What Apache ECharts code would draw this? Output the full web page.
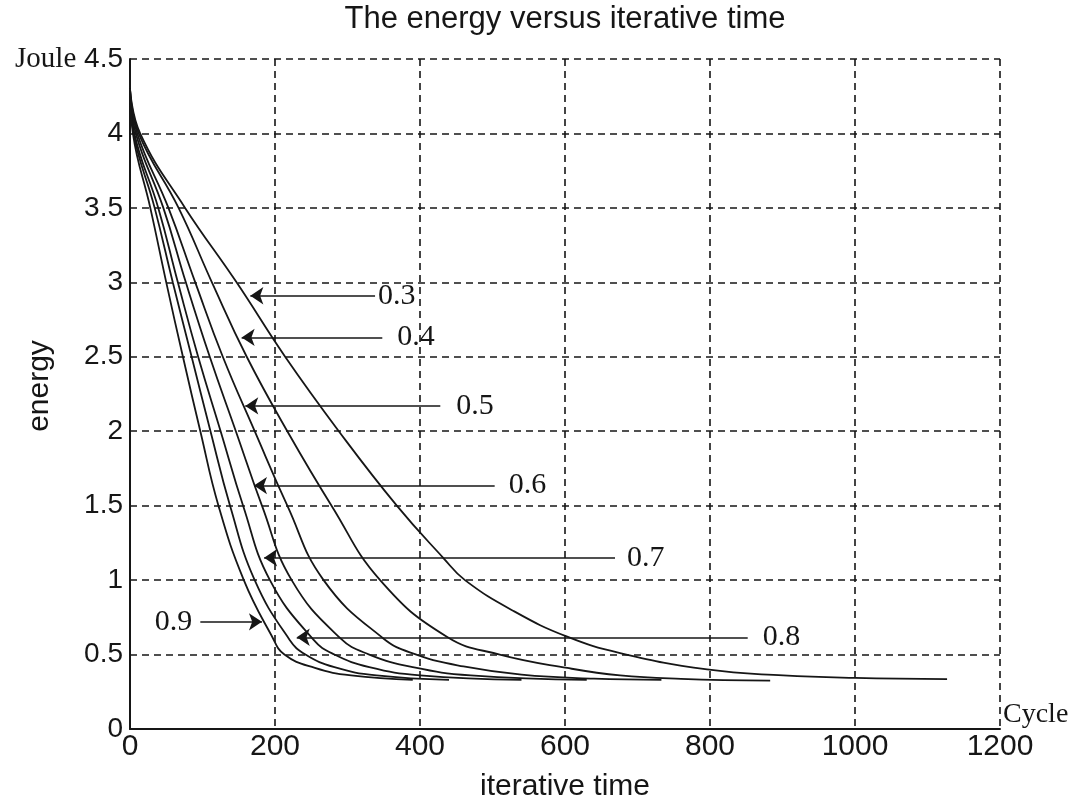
<!DOCTYPE html>
<html>
<head>
<meta charset="utf-8">
<script src="https://cdn.jsdelivr.net/npm/echarts@6/dist/echarts.min.js"></script>
<style>
html,body{margin:0;padding:0;background:#fff;}
#chart{width:1079px;height:806px;}
</style>
</head>
<body>
<div id="chart"></div>
<script>
// ---- data ----
const xTicks = [0, 200, 400, 600, 800, 1000, 1200];
const yTicks = [0, 0.5, 1, 1.5, 2, 2.5, 3, 3.5, 4, 4.5];
const seriesNames = ['0.3', '0.4', '0.5', '0.6', '0.7', '0.8', '0.9'];
const e03 = [[0,4.3],[14,4.0],[76,3.5],[147,3.0],[214,2.5],[288,2.0],[368,1.5],[432,1.15],[462,1.0],[530,0.79],[603,0.62],[676,0.51],[796,0.4],[901,0.36],[1000,0.343],[1127,0.335]];
const e04 = [[0,4.3],[12,4.0],[67,3.5],[113,3.0],[161,2.5],[217,2.0],[278,1.5],[345,1.0],[437,0.62],[510,0.5],[603,0.41],[676,0.36],[760,0.337],[883,0.325]];
const e05 = [[0,4.3],[10,4.0],[53,3.5],[90,3.0],[128,2.5],[172,2.0],[217,1.5],[267,1.0],[349,0.61],[395,0.5],[460,0.42],[540,0.365],[640,0.338],[733,0.33]];
const e06 = [[0,4.3],[8,4.0],[46,3.5],[77,3.0],[110,2.5],[146,2.0],[182,1.5],[223,1.0],[290,0.61],[330,0.5],[390,0.415],[470,0.36],[630,0.33]];
const e07 = [[0,4.3],[6,4.0],[39,3.5],[66,3.0],[94,2.5],[125,2.0],[156,1.5],[193,1.0],[253,0.6],[282,0.5],[330,0.415],[400,0.36],[540,0.33]];
const e08 = [[0,4.3],[5,4.0],[34,3.5],[59,3.0],[85,2.5],[111,2.0],[138,1.5],[172,1.0],[220,0.6],[242,0.5],[282,0.415],[340,0.36],[440,0.33]];
const e09 = [[0,4.3],[4,4.0],[28,3.5],[50,3.0],[73,2.5],[97,2.0],[122,1.5],[157,1.0],[195,0.63],[213,0.5],[255,0.41],[305,0.36],[390,0.33]];
// arrow annotations: [label-end x, tip x, y] in data units
const arrow03 = [338, 166, 2.91];
const arrow04 = [348, 154, 2.63];
const arrow05 = [428, 159, 2.17];
const arrow06 = [503, 171, 1.635];
const arrow07 = [669, 185, 1.15];
const arrow08 = [852, 230, 0.616];
const arrow09 = [97, 182, 0.72];

const curves = [e03, e04, e05, e06, e07, e08, e09];
const arrows = [arrow03, arrow04, arrow05, arrow06, arrow07, arrow08, arrow09];
const labelGap = [3, 15, 16, 14, 12, 15, 8];

const chart = echarts.init(document.getElementById('chart'), null, {renderer: 'canvas'});
const INK = '#161616';
const dash = [7, 5];

const series = curves.map((d, i) => {
  const a = arrows[i];
  return {
    type: 'line',
    name: seriesNames[i],
    data: d,
    showSymbol: false,
    symbol: 'none',
    smooth: 0.45,
    lineStyle: {color: INK, width: 1.8},
    z: 3,
    markLine: {
      silent: true,
      symbol: ['none', 'arrow'],
      symbolSize: 13,
      lineStyle: {color: INK, type: 'solid', width: 1.6},
      itemStyle: {color: INK},
      label: {
        show: true,
        position: 'start',
        distance: labelGap[i],
        formatter: seriesNames[i],
        fontFamily: 'Liberation Serif',
        fontSize: 30,
        color: INK
      },
      data: [[{coord: [a[0], a[2]]}, {coord: [a[1], a[2]]}]]
    }
  };
});

const option = {
  animation: false,
  backgroundColor: '#ffffff',
  grid: {left: 130, right: 79, top: 59, bottom: 77, containLabel: false},
  xAxis: {
    type: 'value',
    min: xTicks[0],
    max: xTicks[xTicks.length - 1],
    interval: 200,
    name: 'Cycle',
    nameLocation: 'end',
    nameGap: 3,
    nameTextStyle: {fontFamily: 'Liberation Serif', fontSize: 28, color: INK, verticalAlign: 'bottom'},
    axisLine: {show: true, lineStyle: {color: INK, width: 2}},
    axisTick: {show: false},
    axisLabel: {fontFamily: 'Liberation Sans', fontSize: 30, color: INK, margin: 3, formatter: v => String(v)},
    splitLine: {show: true, lineStyle: {color: INK, type: dash, width: 1.6}}
  },
  yAxis: {
    type: 'value',
    min: yTicks[0],
    max: yTicks[yTicks.length - 1],
    interval: 0.5,
    axisLine: {show: true, lineStyle: {color: INK, width: 2}},
    axisTick: {show: false},
    axisLabel: {
      fontFamily: 'Liberation Sans', fontSize: 28, color: INK, margin: 7,
      formatter: v => v === 4.5 ? '{j|Joule} 4.5' : String(v),
      rich: {j: {fontFamily: 'Liberation Serif', fontSize: 29, color: INK}}
    },
    splitLine: {show: true, lineStyle: {color: INK, type: dash, width: 1.6}}
  },
  graphic: [
    {type: 'text', x: 565, y: 4, style: {text: 'The energy versus iterative time', font: '31px "Liberation Sans"', fill: INK, textAlign: 'center', textVerticalAlign: 'top'}},
    {type: 'text', x: 565, y: 772, style: {text: 'iterative time', font: '30px "Liberation Sans"', fill: INK, textAlign: 'center', textVerticalAlign: 'top'}},
    {type: 'text', x: 40, y: 386, rotation: Math.PI / 2, style: {text: 'energy', font: '30px "Liberation Sans"', fill: INK, textAlign: 'center', textVerticalAlign: 'middle'}}
  ],
  series: series
};
chart.setOption(option);
</script>
</body>
</html>
